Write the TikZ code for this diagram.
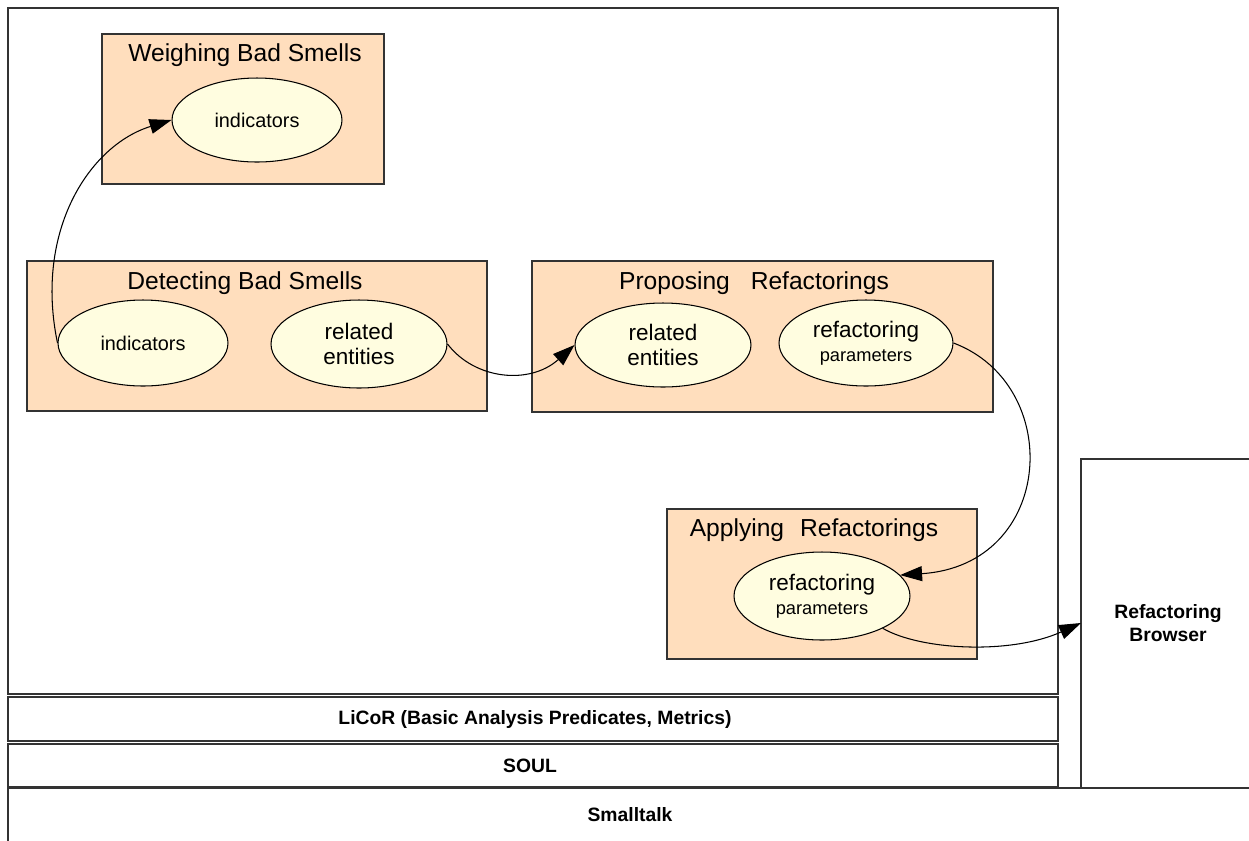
\documentclass[tikz,border=0pt]{standalone}
\usepackage{fontspec}
\setmainfont{Liberation Sans}
\usetikzlibrary{shapes.geometric,arrows.meta}

\definecolor{framegray}{HTML}{333333}
\definecolor{peach}{HTML}{FFDEBD}
\definecolor{cream}{HTML}{FFFDE0}

\tikzset{
  frame/.style={draw=framegray, line width=0.9pt, fill=white},
  group/.style={draw=framegray, line width=0.8pt, fill=peach, rectangle, inner sep=0pt},
  grouptitle/.style={font=\fontsize{14}{16}\selectfont, inner sep=0pt},
  item/.style={draw=black, line width=0.6pt, fill=cream, ellipse, inner sep=0pt,
    align=center, font=\fontsize{12.8}{14.4}\selectfont},
  layertext/.style={font=\bfseries\fontsize{11}{13}\selectfont, inner sep=0pt, align=center},
  flow/.style={draw=black, line width=0.6pt, -{Triangle[length=12.5pt,width=8.5pt]}}
}

\begin{document}
\begin{tikzpicture}[x=0.02cm, y=-0.02cm]
  \useasboundingbox (0,0) rectangle (1249,840);

  % platform layers
  \draw[frame] (8,788) rectangle (1262,852);
  \node[layertext] (smalltalk) at (630,815) {Smalltalk};
  \draw[frame] (1081,459) rectangle (1262,788);
  \node[layertext] (browser) at (1168,623) {Refactoring\\Browser};
  \coordinate (browserin) at (1081,623);

  \draw[frame] (8,744) rectangle (1058,787);
  \node[layertext] (soul) at (530,766) {SOUL};
  \draw[frame] (8,697) rectangle (1058,741);
  \node[layertext] (licor) at (535,719) {LiCoR (Basic Analysis Predicates, Metrics)};
  \draw[frame] (8,8) rectangle (1058,694);

  % activity groups
  \node[group, minimum width=5.64cm, minimum height=3cm] (weigh) at (243,109) {};
  \node[grouptitle] (weightitle) at (245,55) {Weighing Bad Smells};
  \node[item, font=\fontsize{11.3}{13}\selectfont, minimum width=3.4cm, minimum height=1.68cm] (wi) at (257,120) {indicators};

  \node[group, minimum width=9.2cm, minimum height=3cm] (detect) at (257,336) {};
  \node[grouptitle] (detecttitle) at (245,283) {Detecting Bad Smells};
  \node[item, font=\fontsize{11.3}{13}\selectfont, minimum width=3.4cm, minimum height=1.72cm] (di) at (143,343) {indicators};
  \node[item, minimum width=3.52cm, minimum height=1.76cm] (dr) at (359,344) {related\\entities};

  \node[group, minimum width=9.22cm, minimum height=3.02cm] (propose) at (762.5,336.5) {};
  \node[grouptitle] (proposetitle) at (754,283) {Proposing\hspace{0.85em}Refactorings};
  \node[item, minimum width=3.52cm, minimum height=1.68cm] (pr) at (663,345) {related\\entities};
  \node[item, minimum width=3.48cm, minimum height=1.72cm] (pp) at (866,343)
    {refactoring\\[-1pt]{\fontsize{10.4}{12}\selectfont parameters}};

  \node[group, minimum width=6.2cm, minimum height=3cm] (apply) at (822,584) {};
  \node[grouptitle] (applytitle) at (814,530) {Applying\hspace{0.65em}Refactorings};
  \node[item, minimum width=3.52cm, minimum height=1.76cm] (ap) at (822,596)
    {refactoring\\[-1pt]{\fontsize{10.4}{12}\selectfont parameters}};

  % data flow between activities
  \draw[flow] (di.west) .. controls (34,230) and (90,145) .. (wi.west);
  \draw[flow] (dr.east) .. controls (475,380) and (530,385) .. (pr.west);
  \draw[flow] (pp.east) .. controls (1065,385) and (1055,565) .. (ap.15);
  \draw[flow] (ap.-28) .. controls (920,650) and (1010,655) .. (browserin);
\end{tikzpicture}
\end{document}
